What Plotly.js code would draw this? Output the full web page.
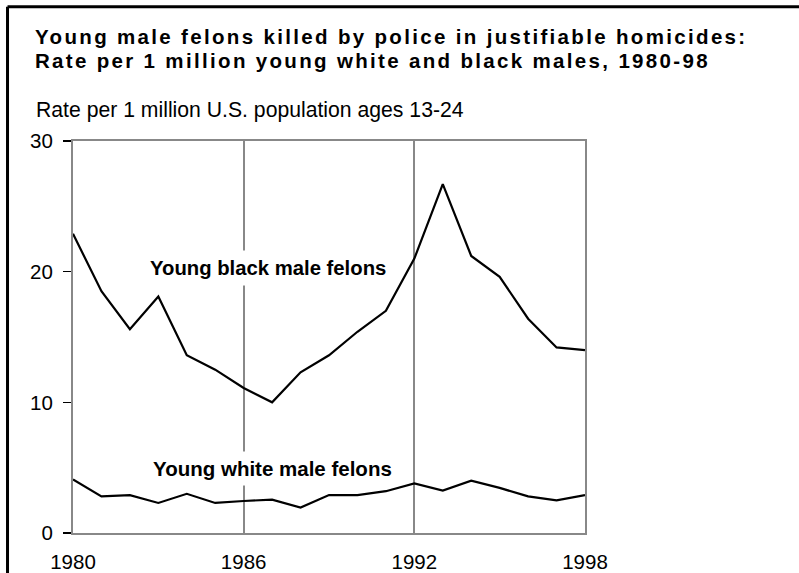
<!DOCTYPE html>
<html>
<head>
<meta charset="utf-8">
<script src="https://cdn.plot.ly/plotly-3.0.1.min.js"></script>
<style>
html, body { margin: 0; padding: 0; background: #fff; overflow: hidden; }
#chart { width: 799px; height: 573px; overflow: hidden; }
.annotation[data-index="0"] text, .annotation[data-index="1"] text { letter-spacing: 2.33px; }
</style>
</head>
<body>
<div id="chart"></div>
<script>
const years = [1980,1981,1982,1983,1984,1985,1986,1987,1988,1989,1990,1991,1992,1993,1994,1995,1996,1997,1998];
const blackRate = [22.9,18.5,15.6,18.1,13.6,12.5,11.1,10.0,12.3,13.6,15.4,17.0,21.0,26.7,21.2,19.6,16.4,14.2,14.0];
const whiteRate = [4.1,2.8,2.9,2.3,3.0,2.3,2.45,2.55,1.95,2.9,2.9,3.2,3.8,3.25,4.0,3.45,2.8,2.5,2.9];
const xTickVals = [1980,1986,1992,1998];
const xTickText = ['1980','1986','1992','1998'];
const yTickVals = [0,10,20,30];
const yTickText = ['0','10','20','30'];

const FONT = 'Liberation Sans, Arial, sans-serif';
const SPACING = 2.33;
const title1 = 'Young male felons killed by police in justifiable homicides:';
const title2 = 'Rate per 1 million young white and black males, 1980-98';

const traces = [
  {x: years, y: blackRate, type: 'scatter', mode: 'lines', line: {color: '#000', width: 2.2}, hoverinfo: 'skip'},
  {x: years, y: whiteRate, type: 'scatter', mode: 'lines', line: {color: '#000', width: 2.2}, hoverinfo: 'skip'}
];

const layout = {
  width: 799, height: 573,
  margin: {l: 73, r: 214, t: 141, b: 40, pad: 0},
  paper_bgcolor: '#fff', plot_bgcolor: '#fff',
  showlegend: false,
  font: {family: FONT, color: '#000', size: 20},
  xaxis: {
    range: [1980, 1998], tickvals: xTickVals, ticktext: xTickText,
    showline: true, linecolor: '#888', linewidth: 2, mirror: true,
    showgrid: true, gridcolor: '#888', gridwidth: 2,
    zeroline: false, ticks: '', ticklabelstandoff: 9,
    tickfont: {family: FONT, size: 20.5, color: '#000'}
  },
  yaxis: {
    range: [0, 30], tickvals: yTickVals, ticktext: yTickText,
    showline: true, linecolor: '#888', linewidth: 2, mirror: true,
    showgrid: false, zeroline: false,
    ticks: 'outside', ticklen: 8, tickwidth: 1.5, tickcolor: '#000',
    ticklabelstandoff: 6,
    tickfont: {family: FONT, size: 20.5, color: '#000'}
  },
  shapes: [
    {type: 'line', xref: 'paper', yref: 'paper', x0: -0.1279, x1: 1.42, y0: 1.3426, y1: 1.3426,
     line: {color: '#000', width: 3}, layer: 'above'},
    {type: 'line', xref: 'paper', yref: 'paper', x0: -0.1279, x1: -0.1279, y0: -0.11, y1: 1.3426,
     line: {color: '#000', width: 3}, layer: 'above'}
  ],
  annotations: [
    {xref: 'paper', yref: 'paper', x: -0.0781, y: 1.2661, xanchor: 'left', yanchor: 'middle', showarrow: false,
     xshift: title1.length * SPACING / 2,
     text: '<b>' + title1 + '</b>', font: {family: FONT, size: 20.5, color: '#000'}},
    {xref: 'paper', yref: 'paper', x: -0.0781, y: 1.2066, xanchor: 'left', yanchor: 'middle', showarrow: false,
     xshift: title2.length * SPACING / 2,
     text: '<b>' + title2 + '</b>', font: {family: FONT, size: 20.5, color: '#000'}},
    {xref: 'paper', yref: 'paper', x: -0.0762, y: 1.0798, xanchor: 'left', yanchor: 'middle', showarrow: false,
     text: 'Rate per 1 million U.S. population ages 13-24', font: {family: FONT, size: 21.2, color: '#000'}},
    {xref: 'x', yref: 'y', x: 1986.86, y: 20.3, xanchor: 'center', yanchor: 'middle', showarrow: false,
     text: '<b>Young black male felons</b>', font: {family: FONT, size: 20.3, color: '#000'},
     bgcolor: '#fff', borderpad: 6},
    {xref: 'x', yref: 'y', x: 1987.03, y: 4.92, xanchor: 'center', yanchor: 'middle', showarrow: false,
     text: '<b>Young white male felons</b>', font: {family: FONT, size: 20.5, color: '#000'},
     bgcolor: '#fff', borderpad: 5}
  ]
};

Plotly.newPlot('chart', traces, layout, {displayModeBar: false, staticPlot: true});
</script>
</body>
</html>
